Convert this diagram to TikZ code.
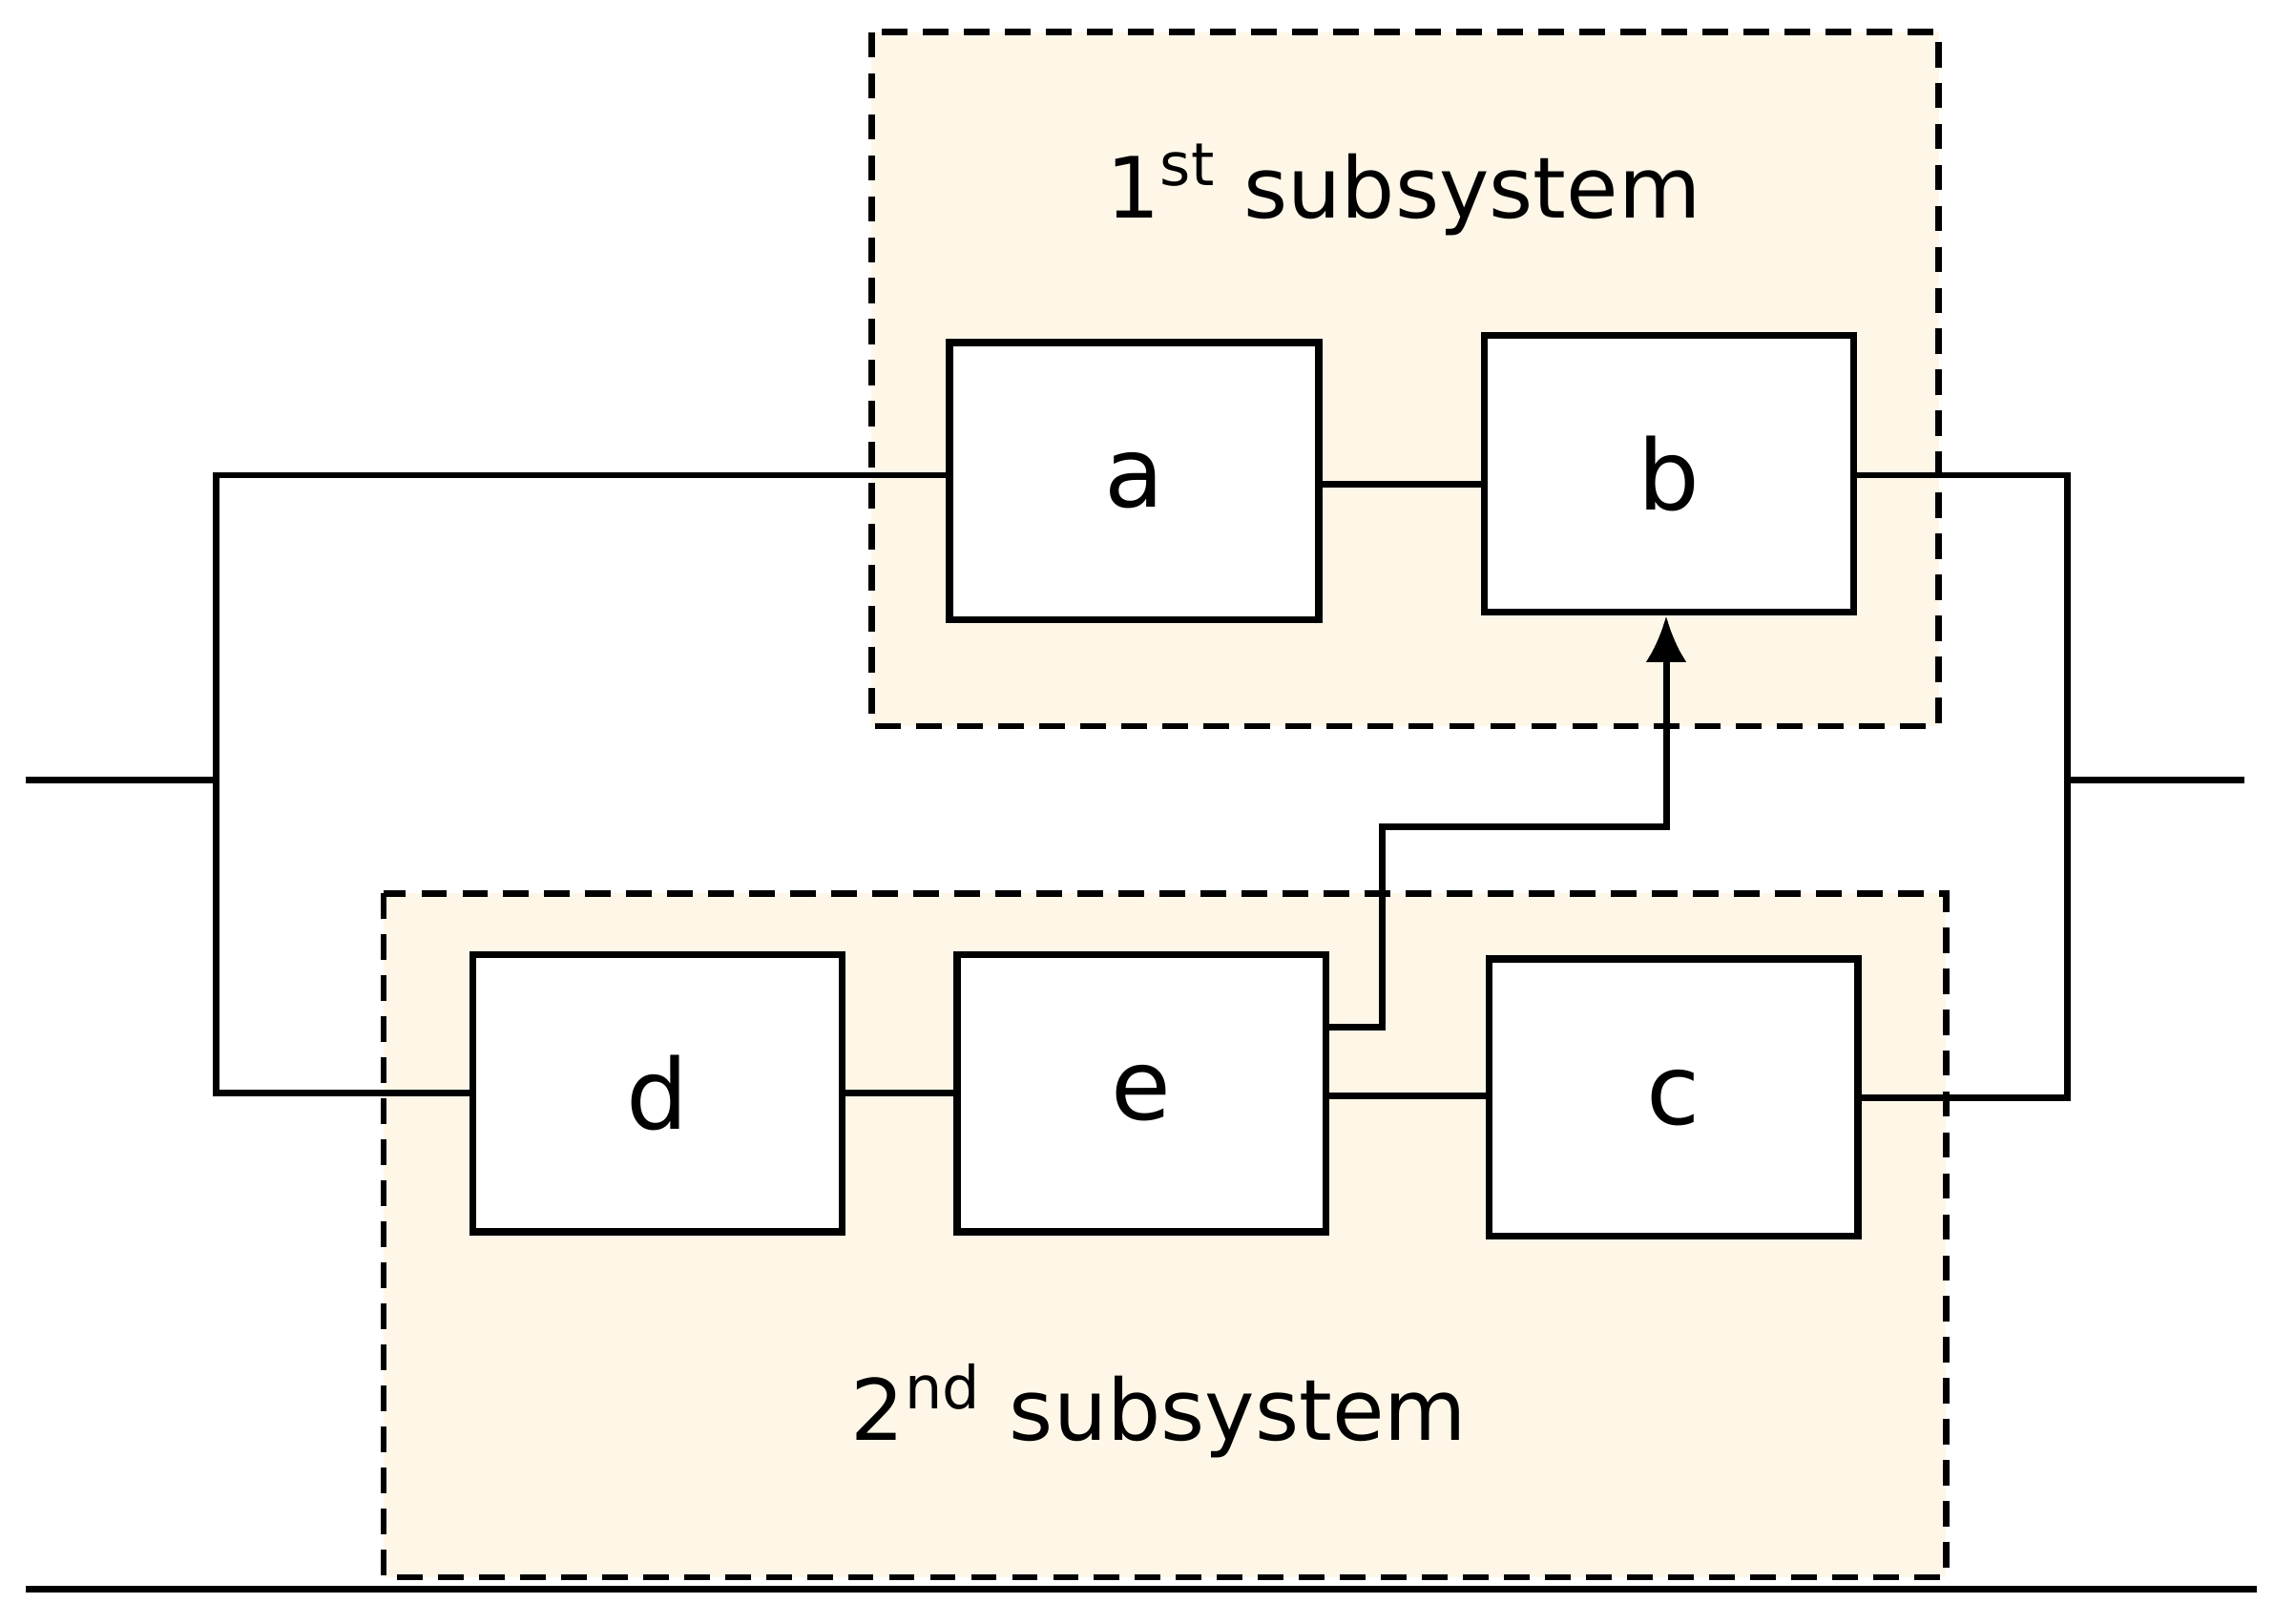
\documentclass[tikz,border=0pt]{standalone}
\usepackage{fontspec}
\setmainfont{DejaVu Sans}
\usetikzlibrary{arrows.meta}
\begin{document}
\begin{tikzpicture}[x=0.01cm,y=-0.01cm,
  blk/.style={draw,line width=1.4pt,fill=white,minimum width=2.53cm,minimum height=1.9cm,font=\fontsize{19}{23}\selectfont},
  sub/.style={draw,dash pattern=on 5pt off 3pt,line width=1.2pt,fill=yellow!30!orange!8},
  ln/.style={line width=1.3pt},
  lab/.style={font=\fontsize{16.5}{20}\selectfont}]
\useasboundingbox (0,0) rectangle (1560,1114);
\draw[sub] (598,22) rectangle (1330,498);
\draw[sub] (263,613) rectangle (1335,1082);
\node[lab] (l1) at (963,130) {1\textsuperscript{st} subsystem};
\node[lab] (l2) at (795,968) {2\textsuperscript{nd} subsystem};
\node[blk] (a) at (778,330) {a};
\node[blk] (b) at (1145,325) {b};
\node[blk] (d) at (451,750) {d};
\node[blk] (e) at (783,750) {e};
\node[blk] (c) at (1148,753) {c};
\coordinate (inL) at (18,535);
\coordinate (jL) at (148,535);
\coordinate (outR) at (1540,535);
\coordinate (jR) at (1418,535);
\draw[ln] (inL) -- (jL);
\draw[ln] (jR) -- (outR);
\draw[ln] (a.west) ++(0,-4) -| (jL) |- (d.west);
\draw[ln] (a.east) ++(0,2) -- (b.west |- 0,332);
\draw[ln] (b.east) ++(0,1) -| (jR) |- (c.east);
\draw[ln] (d.east) -- (e.west);
\draw[ln] (e.east) ++(0,2) -- (c.west |- 0,752);
\draw[ln,-{Latex[length=9pt,width=8pt]}] (910,705) -- (948,705) -- (948,567) -- (1143,567) -- (b.south -| 1143,0);
\draw[ln] (18,1090) -- (1548,1090);
\end{tikzpicture}
\end{document}
